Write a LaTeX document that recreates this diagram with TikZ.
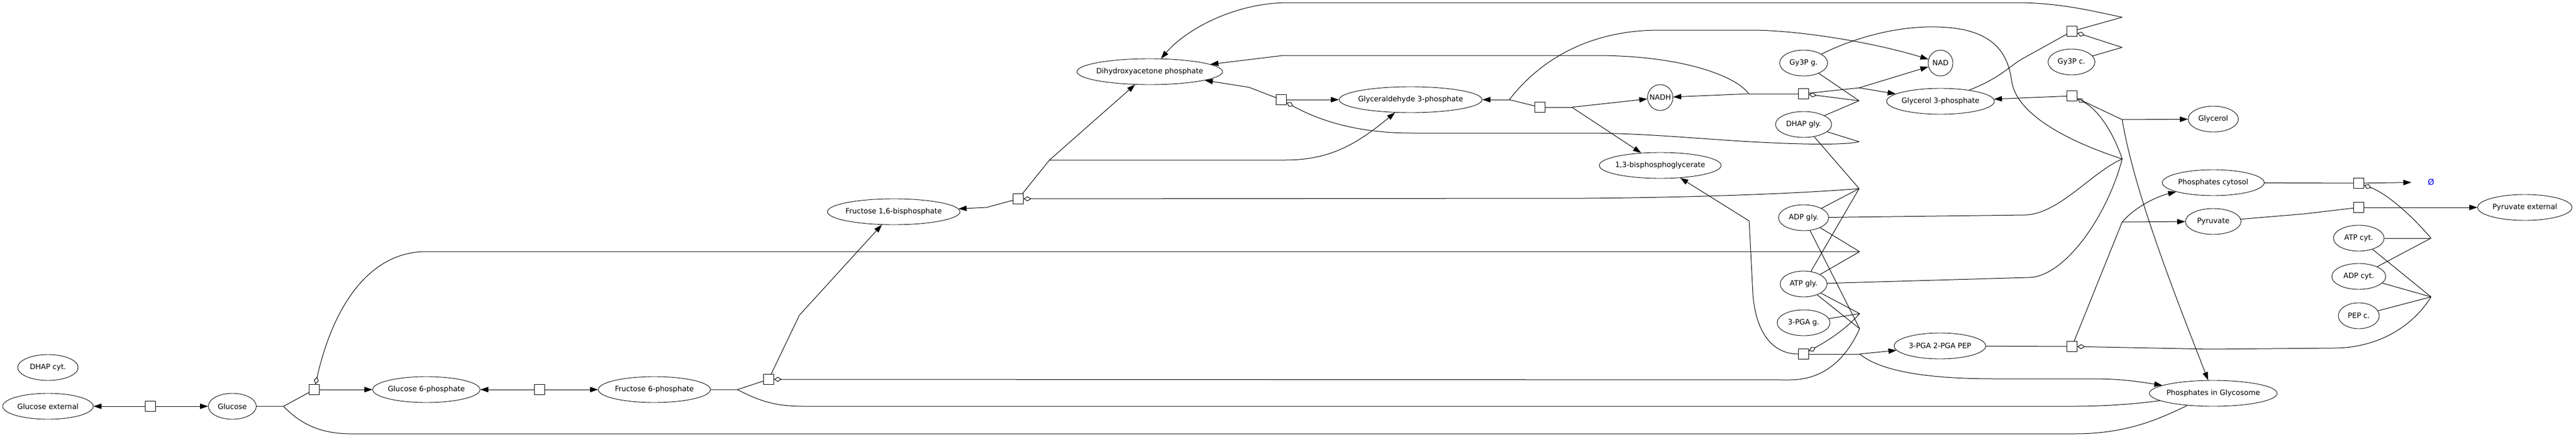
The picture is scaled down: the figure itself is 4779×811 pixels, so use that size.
\documentclass[tikz,border=0pt]{standalone}
\usepackage{fontspec}
\setmainfont{DejaVu Sans}
\usetikzlibrary{shapes.geometric,arrows.meta}
\newcommand{\lbl}[1]{\makebox[0pt]{#1}}

\begin{document}
\begin{tikzpicture}[x=1pt,y=-1pt,line width=1pt,
    species/.style={ellipse,draw,line width=0.9pt,inner sep=0pt,minimum height=48pt,font=\fontsize{13.5}{16}\selectfont},
    rbox/.style={draw,fill=white,inner sep=0pt,minimum size=19pt},
    rxn/.style={-{Triangle[length=15pt,width=10pt]}},
    modif/.style={-{Diamond[open,length=14pt,width=9pt]}},
    sink/.style={minimum width=72pt,inner sep=0pt,text=blue,font=\fontsize{15}{18}\selectfont}]
      \useasboundingbox (0,0) rectangle (4779,811);
      \node[species,minimum width=112pt] (dhapc) at (89,682) {\lbl{DHAP cyt.}};
      \node[species,minimum width=168pt] (gluext) at (89,754) {\lbl{Glucose external}};
      \node[species,minimum width=89pt] (glc) at (431,754) {\lbl{Glucose}};
      \node[species,minimum width=199pt] (g6p) at (791,723) {\lbl{Glucose 6-phosphate}};
      \node[species,minimum width=208pt] (f6p) at (1214,723) {\lbl{Fructose 6-phosphate}};
      \node[species,minimum width=246pt] (f16bp) at (1658,393) {\lbl{Fructose 1,6-bisphosphate}};
      \node[species,minimum width=270pt] (dhap) at (2133,133) {\lbl{Dihydroxyacetone phosphate}};
      \node[species,minimum width=265pt] (gap) at (2617,185) {\lbl{Glyceraldehyde 3-phosphate}};
      \node[species,minimum width=47pt] (nadh) at (3080,181) {\lbl{NADH}};
      \node[species,minimum width=226pt] (bpg) at (3080,307) {\lbl{1,3-bisphosphoglycerate}};
      \node[species,minimum width=89pt] (gy3pg) at (3346,117) {\lbl{Gy3P g.}};
      \node[species,minimum width=46pt] (nad) at (3600,117) {\lbl{NAD}};
      \node[species,minimum width=200pt] (g3p) at (3600,188) {\lbl{Glycerol 3-phosphate}};
      \node[species,minimum width=104pt] (dhapg) at (3346,231) {\lbl{DHAP gly.}};
      \node[species,minimum width=93pt] (adpg) at (3346,404) {\lbl{ADP gly.}};
      \node[species,minimum width=87pt] (atpg) at (3346,527) {\lbl{ATP gly.}};
      \node[species,minimum width=98pt] (pgag) at (3346,599) {\lbl{3-PGA g.}};
      \node[species,minimum width=170pt] (pep) at (3599,642) {\lbl{3-PGA 2-PGA PEP}};
      \node[species,minimum width=87pt] (gy3pc) at (3843,115) {\lbl{Gy3P c.}};
      \node[species,minimum width=93pt] (glyc) at (4106,221) {\lbl{Glycerol}};
      \node[species,minimum width=189pt] (pic) at (4106,339) {\lbl{Phosphates cytosol}};
      \node[species,minimum width=103pt] (pyr) at (4106,411) {\lbl{Pyruvate}};
      \node[species,minimum width=175pt] (pyrext) at (4684,385) {\lbl{Pyruvate external}};
      \node[species,minimum width=94pt] (atpc) at (4376,442) {\lbl{ATP cyt.}};
      \node[species,minimum width=100pt] (adpc) at (4376,513) {\lbl{ADP cyt.}};
      \node[species,minimum width=76pt] (pepc) at (4376,586) {\lbl{PEP c.}};
      \node[species,minimum width=237pt] (pig) at (4106,730) {\lbl{Phosphates in Glycosome}};
      \node[sink] (none) at (4510,338) {Ø};
      \node[rbox] (b1) at (279,754) {};
      \node[rbox] (b2) at (583,723) {};
      \node[rbox] (b3) at (1001,723) {};
      \node[rbox] (b4) at (1426,704) {};
      \node[rbox] (b5) at (1889,369) {};
      \node[rbox] (b6) at (2377,185) {};
      \node[rbox] (b7) at (2857,199) {};
      \node[rbox] (b8) at (3346,174) {};
      \node[rbox] (b9) at (3346,657) {};
      \node[rbox] (b10) at (3844,643) {};
      \node[rbox] (b11) at (3844,58) {};
      \node[rbox] (b12) at (3844,178) {};
      \node[rbox] (b13) at (4376,340) {};
      \node[rbox] (b14) at (4376,385) {};
      \coordinate (j1) at (526,754);
      \coordinate (j2) at (1368,723);
      \coordinate (j3) at (1483,585);
      \coordinate (j4) at (1830,385);
      \coordinate (j5) at (1947,297);
      \coordinate (j6) at (2317,162);
      \coordinate (j7) at (2800,185);
      \coordinate (j8) at (2916,199);
      \coordinate (j9) at (3244,174);
      \coordinate (j10) at (3449,163);
      \coordinate (j11) at (3245,410);
      \coordinate (j12) at (3450,657);
      \coordinate (j13) at (3937,412);
      \coordinate (j15) at (3937,32);
      \coordinate (j16) at (3937,222);
      \coordinate (m2) at (3450,467);
      \coordinate (m4) at (3450,610);
      \coordinate (m5) at (3449,350);
      \coordinate (m6) at (3449,263);
      \coordinate (m8) at (3449,187);
      \coordinate (m9) at (3450,582);
      \coordinate (m10) at (4510,551);
      \coordinate (m11) at (3937,88);
      \coordinate (m12) at (3937,295);
      \coordinate (m13) at (4510,442);
      \draw[rxn] (b1) -- (gluext);
      \draw[rxn] (b1) -- (glc);
      \draw (glc) -- (j1) -- (b2);
      \draw[rxn] (b2) -- (g6p);
      \draw (j1) .. controls (560,790) and (600,805) .. (650,805) -- (3850,805) .. controls (3950,805) and (4010,775) .. (pig);
      \draw[modif] (m2) -- (790,467) .. controls (690,467) and (620,560) .. (b2);
      \draw (adpg) -- (m2);
      \draw (atpg) -- (m2);
      \draw[rxn] (b3) -- (g6p);
      \draw[rxn] (b3) -- (f6p);
      \draw (f6p) -- (j2) -- (b4);
      \draw (j2) .. controls (1410,745) and (1440,754) .. (1490,754) -- (3850,754) .. controls (3900,754) and (3960,750) .. (pig);
      \draw[rxn] (b4) -- (j3) -- (f16bp);
      \draw[modif] (m4) .. controls (3425,665) and (3385,705) .. (3320,705) -- (b4);
      \draw (atpg) -- (m4);
      \draw (adpg) -- (m4);
      \draw[rxn] (b5) -- (j4) -- (f16bp);
      \draw (b5) -- (j5);
      \draw[rxn] (j5) -- (dhap);
      \draw[rxn] (j5) -- (2385,297) .. controls (2470,297) and (2520,265) .. (gap);
      \draw[modif] (m5) .. controls (3380,356) and (3200,366) .. (2940,368) -- (b5);
      \draw (dhapg) -- (m5);
      \draw (adpg) -- (m5);
      \draw (atpg) -- (m5);
      \draw[rxn] (b6) -- (j6) -- (dhap);
      \draw[rxn] (b6) -- (gap);
      \draw[modif] (m6) .. controls (3420,270) and (3330,268) .. (3230,262) .. controls (3120,255) and (3040,247) .. (2940,247) -- (2620,247) .. controls (2520,247) and (2450,225) .. (b6);
      \draw (dhapg) -- (m6);
      \draw (b7) -- (j7);
      \draw[rxn] (j7) -- (gap);
      \draw[rxn] (j7) .. controls (2870,95) and (2970,56) .. (3077,56) -- (3259,56) .. controls (3350,58) and (3480,80) .. (nad);
      \draw (b7) -- (j8);
      \draw[rxn] (j8) -- (nadh);
      \draw[rxn] (j8) -- (bpg);
      \draw (b8) -- (j9);
      \draw[rxn] (j9) -- (nadh);
      \draw[rxn] (j9) .. controls (3225,145) and (3130,103) .. (2960,103) -- (2380,103) -- (dhap);
      \draw (b8) -- (j10);
      \draw[rxn] (j10) -- (nad);
      \draw[rxn] (j10) -- (g3p);
      \draw[modif] (m8) -- (b8);
      \draw (gy3pg) -- (m8);
      \draw (dhapg) -- (m8);
      \draw[rxn] (b9) .. controls (3290,657) and (3258,620) .. (3252,547) -- (j11) -- (bpg);
      \draw (b9) -- (j12);
      \draw[rxn] (j12) -- (pep);
      \draw[rxn] (j12) .. controls (3490,690) and (3580,703) .. (3700,703) -- (3880,703) .. controls (3930,703) and (3960,707) .. (pig);
      \draw[modif] (m9) .. controls (3425,610) and (3395,630) .. (b9);
      \draw (pgag) -- (m9);
      \draw (atpg) -- (m9);
      \draw (pep) -- (b10);
      \draw (b10) -- (j13);
      \draw[rxn] (j13) -- (pyr);
      \draw[rxn] (j13) .. controls (3960,385) and (4000,365) .. (pic);
      \draw[modif] (m10) .. controls (4470,615) and (4400,646) .. (4330,646) -- (4100,648) -- (b10);
      \draw (atpc) -- (m10);
      \draw (adpc) -- (m10);
      \draw (pepc) -- (m10);
      \draw (g3p) .. controls (3710,145) and (3725,125) .. (3752,109) -- (b11);
      \draw (b11) -- (j15);
      \draw[rxn] (j15) .. controls (3880,20) and (3820,5) .. (3740,5) -- (2390,5) .. controls (2290,5) and (2200,55) .. (dhap);
      \draw[modif] (m11) -- (b11);
      \draw (gy3pc) -- (m11);
      \draw[rxn] (b12) -- (g3p);
      \draw (b12) -- (j16);
      \draw[rxn] (j16) -- (glyc);
      \draw[rxn] (j16) .. controls (3960,360) and (4040,560) .. (pig);
      \draw[modif] (m12) .. controls (3922,250) and (3895,205) .. (b12);
      \draw (gy3pg) .. controls (3440,70) and (3520,48) .. (3593,50) .. controls (3700,52) and (3725,100) .. (3732,150) .. controls (3740,210) and (3830,260) .. (m12);
      \draw (adpg) -- (3757,399) .. controls (3820,397) and (3880,320) .. (m12);
      \draw (atpg) -- (3763,515) .. controls (3830,515) and (3910,400) .. (m12);
      \draw (pic) -- (b13);
      \draw[rxn] (b13) -- (none);
      \draw[modif] (m13) .. controls (4470,395) and (4425,358) .. (b13);
      \draw (atpc) -- (m13);
      \draw (adpc) -- (m13);
      \draw (pyr) -- (4274,397) -- (b14);
      \draw[rxn] (b14) -- (pyrext);
    \end{tikzpicture}
\end{document}
